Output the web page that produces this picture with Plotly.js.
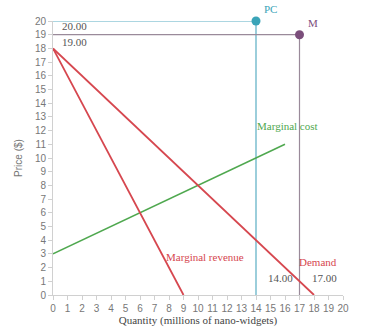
<!DOCTYPE html>
<html><head><meta charset="utf-8">
<script src="https://cdn.plot.ly/plotly-3.0.1.min.js"></script>
<style>html,body{margin:0;padding:0;background:#fff}#c{width:381px;height:336px}</style>
</head><body><div id="c"></div>
<script>
const demandX = [0, 18], demandY = [18, 0];
const mrX = [0, 9], mrY = [18, 0];
const mcX = [0, 16], mcY = [3, 11];
const pcQ = 14, pcP = 20;
const mQ = 17, mP = 19;

const red = '#d6474f', green = '#4fa84f', teal = '#3aa4b8', purple = '#7b4e7b';
const serif = 'Liberation Serif, DejaVu Serif, serif';
const sans = 'Liberation Sans, Arial, sans-serif';

const traces = [
  {x: [0, pcQ, pcQ], y: [pcP, pcP, 0], mode: 'lines', line: {color: '#5aaec4', width: 1.2}, hoverinfo: 'none'},
  {x: [0, mQ, mQ], y: [mP, mP, 0], mode: 'lines', line: {color: '#9a8a9a', width: 1.2}, hoverinfo: 'none'},
  {x: mcX, y: mcY, mode: 'lines', line: {color: green, width: 1.5}},
  {x: demandX, y: demandY, mode: 'lines', line: {color: red, width: 1.8}},
  {x: mrX, y: mrY, mode: 'lines', line: {color: red, width: 1.8}},
  {x: [pcQ], y: [pcP], mode: 'markers', marker: {color: teal, size: 9}, cliponaxis: false},
  {x: [mQ], y: [mP], mode: 'markers', marker: {color: purple, size: 9}, cliponaxis: false}
];

const ann = (x, y, t, c, yr) => ({x, y, yref: yr || 'y', text: t, showarrow: false, xanchor: 'center', yanchor: 'middle', font: {family: serif, size: 11, color: c}});

const layout = {
  width: 381, height: 336,
  margin: {l: 53, r: 38, t: 21, b: 41},
  paper_bgcolor: '#fff', plot_bgcolor: '#fff',
  showlegend: false,
  xaxis: {range: [0, 20], dtick: 1, showgrid: false, zeroline: false, showline: true, linecolor: '#d0d0d0', linewidth: 1,
    ticks: 'outside', ticklen: 4, tickcolor: '#d0d0d0', tickfont: {family: sans, size: 10, color: '#777'},
    title: {text: 'Quantity (millions of nano-widgets)', font: {family: serif, size: 11, color: '#444'}, standoff: 3}},
  yaxis: {range: [0, 20], dtick: 1, showgrid: false, zeroline: false, showline: true, linecolor: '#d0d0d0', linewidth: 1,
    ticks: 'outside', ticklen: 4, tickcolor: '#d0d0d0', tickfont: {family: sans, size: 10, color: '#777'},
    title: {text: 'Price ($)', font: {family: sans, size: 10, color: '#777'}, standoff: 10}},
  annotations: [
    ann(1.5, 19.6, '20.00', '#555'),
    ann(1.5, 18.45, '19.00', '#555'),
    ann(15.0, 1.044, 'PC', teal, 'paper'),
    ann(17.9, 0.993, 'M', purple, 'paper'),
    ann(16.2, 12.3, 'Marginal cost', green),
    ann(10.5, 2.75, 'Marginal revenue', red),
    ann(18.3, 2.4, 'Demand', red),
    ann(15.7, 1.25, '14.00', '#555'),
    ann(18.75, 1.25, '17.00', '#555')
  ]
};
Plotly.newPlot('c', traces, layout, {displayModeBar: false, staticPlot: true});
</script></body></html>
